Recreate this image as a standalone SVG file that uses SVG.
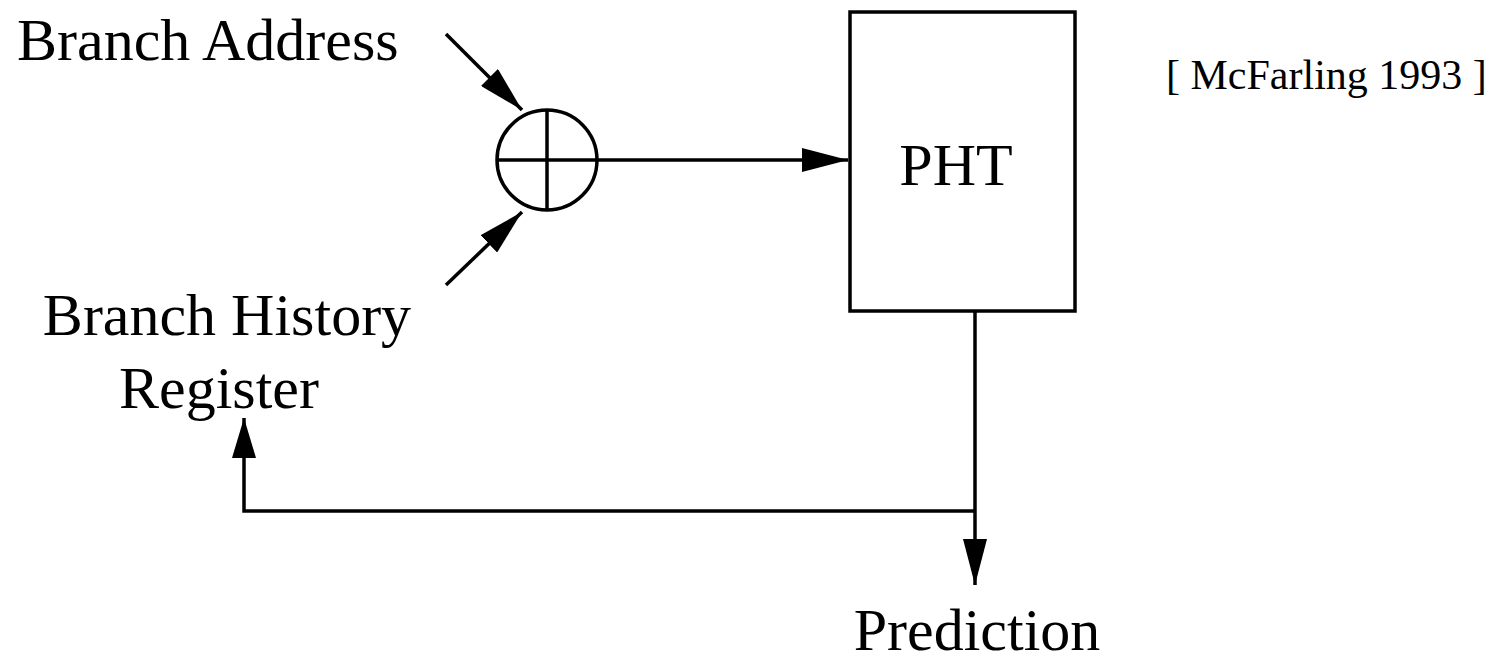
<svg xmlns="http://www.w3.org/2000/svg" width="1493" height="664" viewBox="0 0 1493 664">
<style>
.ln{fill:none;stroke:#000;stroke-width:3.5}
.t{font-family:"Liberation Serif","Times New Roman",serif;fill:#000}
.big{font-size:60px}
.sm{font-size:42px}
</style>
<defs>
<marker id="ah" markerWidth="46" markerHeight="24" refX="46" refY="12" orient="auto" markerUnits="userSpaceOnUse">
<path d="M0,0 L46,12 L0,24 Z" fill="#000"/>
</marker>
<marker id="ah2" markerWidth="40" markerHeight="24" refX="40" refY="12" orient="auto" markerUnits="userSpaceOnUse">
<path d="M0,0 L40,12 L0,24 Z" fill="#000"/>
</marker>
</defs>
<rect width="1493" height="664" fill="#fff"/>
<g id="xor">
<circle cx="547" cy="160" r="50" class="ln"/>
<line x1="497" y1="160" x2="597" y2="160" class="ln"/>
<line x1="547" y1="110" x2="547" y2="210" class="ln"/>
</g>
<g id="pht">
<rect x="850" y="12" width="225" height="299" class="ln"/>
<text x="956" y="185" class="t big" text-anchor="middle">PHT</text>
</g>
<g id="branch-address">
<text x="17" y="60" class="t big">Branch Address</text>
</g>
<g id="bhr">
<text x="227" y="335" class="t big" text-anchor="middle">Branch History</text>
<text x="219" y="408" class="t big" text-anchor="middle">Register</text>
</g>
<g id="prediction">
<text x="977" y="650" class="t big" text-anchor="middle" font-size="58.5">Prediction</text>
</g>
<g id="cite">
<text x="1166" y="89" class="t sm">[ McFarling 1993 ]</text>
</g>
<g id="connectors">
<line x1="446" y1="34" x2="522" y2="110" class="ln" marker-end="url(#ah)"/>
<line x1="446" y1="285" x2="522" y2="212" class="ln" marker-end="url(#ah)"/>
<line x1="597" y1="160" x2="848" y2="160" class="ln" marker-end="url(#ah)"/>
<polyline points="975,311 975,585" class="ln" marker-end="url(#ah)"/>
<polyline points="975,511 244,511 244,418" class="ln" marker-end="url(#ah2)"/>
</g>
</svg>
